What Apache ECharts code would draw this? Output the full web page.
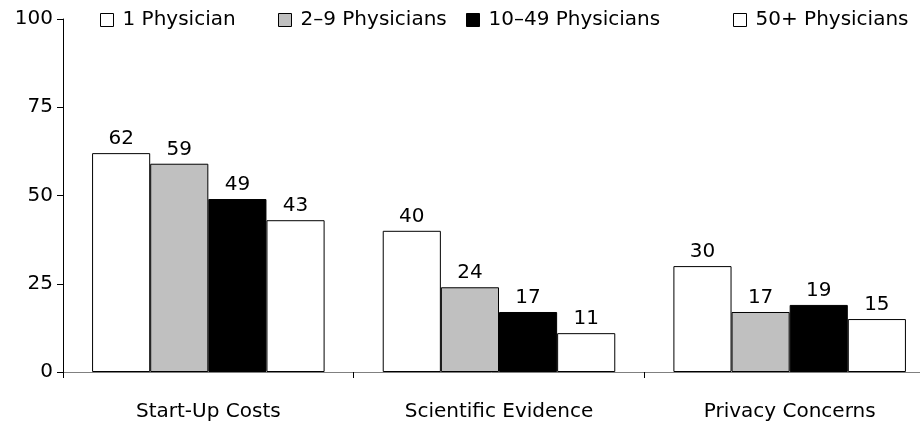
<!DOCTYPE html>
<html>
<head>
<meta charset="utf-8">
<script src="https://cdn.jsdelivr.net/npm/echarts@6/dist/echarts.min.js"></script>
<style>
  html, body { margin: 0; padding: 0; background: #fff; }
  #chart { width: 920px; height: 423px; }
</style>
</head>
<body>
<div id="chart"></div>
<script>
  // data
  var categories = ['Start-Up Costs', 'Scientific Evidence', 'Privacy Concerns'];
  var seriesNames = ['1 Physician', '2\u20139 Physicians', '10\u201349 Physicians', '50+ Physicians'];
  var onePhysician = [62, 40, 30];
  var twoToNine = [59, 24, 17];
  var tenToFortyNine = [49, 17, 19];
  var fiftyPlus = [43, 11, 15];
  var yTicks = [0, 25, 50, 75, 100];

  var fontName = 'DejaVu Sans';
  var colors = ['#ffffff', '#c0c0c0', '#000000', '#ffffff'];
  var values = [onePhysician, twoToNine, tenToFortyNine, fiftyPlus];
  var legendLeft = [100, 278, 466, 733];

  var chart = echarts.init(document.getElementById('chart'));

  var series = seriesNames.map(function (name, i) {
    return {
      name: name,
      type: 'bar',
      data: values[i],
      barGap: '0%',
      barCategoryGap: '20%',
      itemStyle: { color: colors[i], borderColor: '#000', borderWidth: 1 },
      label: {
        show: true,
        position: 'top',
        distance: 4,
        color: '#000',
        fontFamily: fontName,
        fontSize: 20
      },
      emphasis: { disabled: true }
    };
  });

  var legends = seriesNames.map(function (name, i) {
    return {
      data: [name],
      left: legendLeft[i],
      top: 10,
      padding: 0,
      icon: 'rect',
      itemWidth: 13,
      itemHeight: 13,
      selectedMode: false,
      itemStyle: { borderWidth: 1, borderColor: '#000' },
      textStyle: { color: '#000', fontFamily: fontName, fontSize: 20, padding: [0, 0, 0, 4] }
    };
  });

  var option = {
    animation: false,
    backgroundColor: '#fff',
    legend: legends,
    grid: { left: 63, top: 19, bottom: 51, width: 872, containLabel: false, outerBoundsMode: 'none' },
    xAxis: {
      type: 'category',
      data: categories,
      axisLine: { lineStyle: { color: '#808080', width: 1 } },
      axisTick: { show: true, length: 6, inside: false, lineStyle: { color: '#000' } },
      axisLabel: { color: '#000', fontFamily: fontName, fontSize: 20, margin: 30 }
    },
    yAxis: {
      type: 'value',
      min: yTicks[0],
      max: yTicks[yTicks.length - 1],
      interval: 25,
      splitLine: { show: false },
      axisLine: { show: true, lineStyle: { color: '#000', width: 1 } },
      axisTick: { show: true, length: 6, lineStyle: { color: '#000' } },
      axisLabel: { color: '#000', fontFamily: fontName, fontSize: 20, margin: 10 }
    },
    series: series
  };

  chart.setOption(option);
</script>
</body>
</html>
